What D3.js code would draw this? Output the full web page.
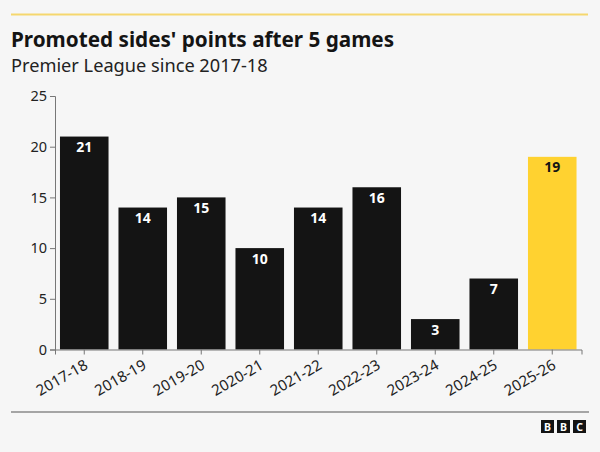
<!DOCTYPE html>
<html lang='en'>
  <head>
    <meta charset='utf-8'>
    <style type='text/css'>
      html, body {margin: 0; padding: 0; background-color: #f6f6f6;}
      svg {display: block; font-family: 'Noto Sans', sans-serif;}
    </style>
  </head>
  <body>
    <svg id='chart' width='600' height='452'></svg>

    <script src='https://d3js.org/d3.v7.min.js'></script>
    <script type='text/javascript'>
        var seasons = ["2017-18", "2018-19", "2019-20", "2020-21", "2021-22", "2022-23", "2023-24", "2024-25", "2025-26"];
        var points = [21, 14, 15, 10, 14, 16, 3, 7, 19];
        var yTicks = [0, 5, 10, 15, 20, 25];
        var highlightSeason = "2025-26";

        var svg = d3.select("#chart");
        var margin = {top: 96, right: 18.5, bottom: 102.5, left: 55};
        var width = 600 - margin.left - margin.right;
        var height = 452 - margin.top - margin.bottom;

        // header rule and titles
        svg.append("rect").attr("x", 11).attr("y", 13.5).attr("width", 577).attr("height", 2).style("fill", "#f5d76e");
        svg.append("text").attr("x", 11).attr("y", 47).style("font-size", "20.7px").style("font-weight", 700).style("fill", "#141414")
            .text("Promoted sides' points after 5 games");
        svg.append("text").attr("x", 11).attr("y", 72).style("font-size", "18.2px").style("fill", "#222")
            .text("Premier League since 2017-18");

        var g = svg.append("g").attr("transform", "translate(" + margin.left + "," + margin.top + ")");

        var x = d3.scaleBand().domain(seasons).range([0, width]).paddingInner(0.17).paddingOuter(0.085);
        var y = d3.scaleLinear().domain([0, 25]).range([height, 0]);

        // bars
        var bar = g.selectAll("g.bar").data(seasons).enter().append("g").attr("class", "bar");
        bar.append("rect")
            .attr("x", function(d) { return x(d); })
            .attr("y", function(d, i) { return y(points[i]); })
            .attr("width", x.bandwidth())
            .attr("height", function(d, i) { return height - y(points[i]); })
            .style("fill", function(d) { return d === highlightSeason ? "#ffd230" : "#141414"; });
        bar.append("text")
            .attr("x", function(d) { return x(d) + x.bandwidth() / 2; })
            .attr("y", function(d, i) { return y(points[i]) + 15.5; })
            .style("text-anchor", "middle")
            .style("font-size", "14px")
            .style("font-weight", 700)
            .style("fill", function(d) { return d === highlightSeason ? "#141414" : "#fff"; })
            .text(function(d, i) { return points[i]; });

        // axes
        var yAxis = g.append("g").call(d3.axisLeft(y).tickValues(yTicks).tickSize(5).tickPadding(3));
        var xAxis = g.append("g").attr("transform", "translate(0," + height + ")")
            .call(d3.axisBottom(x).tickSize(5).tickPadding(4));
        g.selectAll(".domain, .tick line").style("stroke", "#777").style("stroke-width", 1);
        yAxis.selectAll("text").style("font-size", "14.5px").style("font-family", "'Noto Sans', sans-serif").style("fill", "#222");
        xAxis.selectAll("text")
            .style("font-size", "15px")
            .style("font-family", "'Noto Sans', sans-serif")
            .style("fill", "#222")
            .style("text-anchor", "end")
            .attr("x", 0)
            .attr("y", 0)
            .attr("dy", "0.35em")
            .attr("transform", "translate(2,14) rotate(-30)");

        // footer
        svg.append("rect").attr("x", 11).attr("y", 411.5).attr("width", 578).attr("height", 1).style("fill", "#555");
        var logoLetters = ["B", "B", "C"];
        var logo = svg.selectAll("g.logo").data(logoLetters).enter().append("g").attr("class", "logo")
            .attr("transform", function(d, i) { return "translate(" + (541 + i * 16) + ",420)"; });
        logo.append("rect").attr("width", 13).attr("height", 13).style("fill", "#141414");
        logo.append("text").attr("x", 6.5).attr("y", 10.5).style("text-anchor", "middle").style("font-size", "10.5px")
            .style("font-weight", 700).style("fill", "#fff").text(function(d) { return d; });
    </script>
  </body>
</html>
